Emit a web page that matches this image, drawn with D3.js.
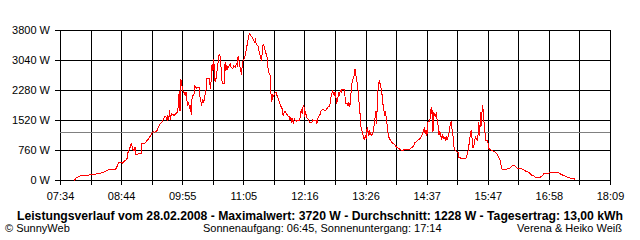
<!DOCTYPE html>
<html><head><meta charset="utf-8">
<script src="https://cdn.jsdelivr.net/npm/d3@7"></script>
<style>
html,body{margin:0;padding:0;background:#fff;}
svg{display:block;}
text{font-family:"Liberation Sans",Arial,sans-serif;fill:#000;}
</style></head>
<body>
<svg id="chart" width="640" height="240"></svg>
<script>
const times = [
"07:50","07:52","07:58","08:10","08:20","08:26","08:29","08:37","08:39","08:41",
"08:45","08:46","08:47","08:49","08:51","08:52","08:54","08:56","08:57","08:59",
"09:00","09:01","09:04","09:07","09:08","09:12","09:14","09:17","09:19","09:21",
"09:22","09:25","09:27","09:29","09:31","09:33","09:34","09:36","09:37","09:38",
"09:39","09:40","09:41","09:42","09:44","09:45","09:47","09:48","09:49","09:50",
"09:51","09:52","09:53","09:54","09:55","09:56","09:57","09:58","09:59","10:00",
"10:01","10:02","10:03","10:04","10:05","10:06","10:08","10:09","10:10","10:11",
"10:12","10:14","10:15","10:16","10:17","10:18","10:19","10:20","10:21","10:22",
"10:23","10:26","10:27","10:28","10:29","10:30","10:31","10:32","10:33","10:34",
"10:36","10:37","10:38","10:39","10:40","10:41","10:43","10:44","10:45","10:46",
"10:47","10:49","10:50","10:51","10:53","10:54","10:56","10:57","10:58","10:59",
"11:01","11:02","11:03","11:04","11:05","11:06","11:07","11:08","11:10","11:11",
"11:12","11:13","11:15","11:16","11:17","11:18","11:19","11:20","11:21","11:22",
"11:23","11:25","11:26","11:27","11:28","11:29","11:30","11:31","11:32","11:33",
"11:34","11:36","11:37","11:38","11:39","11:40","11:42","11:43","11:44","11:46",
"11:47","11:48","11:49","11:50","11:51","11:53","11:54","11:55","11:57","11:58",
"11:59","12:00","12:01","12:02","12:03","12:04","12:06","12:07","12:10","12:11",
"12:12","12:13","12:14","12:15","12:16","12:17","12:18","12:19","12:20","12:22",
"12:24","12:25","12:27","12:29","12:30","12:31","12:33","12:34","12:35","12:37",
"12:39","12:40","12:42","12:43","12:45","12:46","12:47","12:48","12:49","12:50",
"12:51","12:52","12:53","12:54","12:55","12:56","12:57","12:58","12:59","13:02",
"13:03","13:05","13:06","13:07","13:08","13:09","13:10","13:11","13:12","13:13",
"13:14","13:15","13:16","13:17","13:18","13:19","13:20","13:21","13:23","13:24",
"13:25","13:26","13:27","13:28","13:30","13:31","13:32","13:33","13:34","13:35",
"13:36","13:38","13:39","13:40","13:41","13:42","13:43","13:45","13:46","13:47",
"13:48","13:49","13:50","13:51","13:52","13:53","13:55","13:57","13:59","14:00",
"14:02","14:04","14:06","14:08","14:12","14:16","14:18","14:20","14:22","14:23",
"14:25","14:27","14:29","14:31","14:33","14:34","14:35","14:36","14:37","14:38",
"14:40","14:41","14:42","14:42","14:43","14:44","14:45","14:45","14:47","14:48",
"14:49","14:50","14:51","14:52","14:53","14:54","14:55","14:57","14:58","14:59",
"15:00","15:01","15:02","15:03","15:04","15:05","15:06","15:07","15:08","15:09",
"15:10","15:12","15:13","15:14","15:16","15:22","15:24","15:25","15:26","15:27",
"15:28","15:29","15:30","15:31","15:32","15:33","15:35","15:36","15:37","15:38",
"15:39","15:40","15:41","15:42","15:43","15:44","15:45","15:47","15:48","15:49",
"15:50","15:52","15:54","15:56","15:58","16:00","16:01","16:02","16:03","16:04",
"16:09","16:10","16:13","16:15","16:17","16:19","16:21","16:24","16:26","16:28",
"16:30","16:32","16:35","16:37","16:40","16:42","16:48","16:50","16:52","16:56",
"16:58","17:09","17:11","17:13","17:15","17:19","17:23","17:27","17:28"
];
const watts = [
0,68,127,144,186,228,270,270,338,465,
465,439,481,507,566,718,819,954,802,760,
844,650,675,675,929,954,1013,1098,1182,1241,
1224,1241,1351,1435,1478,1562,1621,1604,1520,1647,
1537,1773,1537,1689,1664,1647,1689,1714,1714,1900,
2255,1757,2559,2457,2280,2238,2238,2153,2238,2027,
1900,1984,1816,1917,1664,2136,2153,2389,2364,2339,
2364,2364,2111,2001,1900,2069,1968,2052,2196,2280,
2576,2576,2323,2533,2956,2787,3082,2559,2491,2660,
2998,3167,3183,2998,2576,2449,2449,2998,2787,2913,
2829,2913,2956,2871,2829,2913,2871,2956,2913,3150,
2913,2787,2677,2981,3040,3082,3150,3251,3504,3631,
3720,3700,3631,3589,3547,3504,3572,3462,3437,3403,
3293,3124,3040,3251,3462,3403,3319,3209,3209,2998,
2745,2660,2196,2001,2196,2136,2238,2238,2153,2027,
1984,1900,1858,1816,1647,1748,1731,1689,1630,1630,
1545,1604,1461,1545,1478,1562,1495,1520,1520,1647,
1816,1689,1858,1900,1604,1748,1604,1579,1545,1461,
1461,1537,1520,1520,1435,1562,1647,1689,1773,1798,
1773,1773,1833,1858,1900,2086,2153,2263,2238,2153,
2238,2111,1984,2027,2238,2153,2280,2238,2305,2305,
1942,1942,1900,1984,1858,2111,2364,2533,2576,2660,
2829,2660,2533,2407,2153,1900,1647,1351,1182,1072,
1039,1157,1056,1351,1140,1241,1182,1140,1182,1241,
1393,1748,1435,2153,2407,2533,2449,2238,1942,1900,
1647,1748,1604,1435,1224,1098,1013,954,929,904,
844,819,785,760,785,785,802,844,887,954,
988,1039,1056,1123,1267,1309,1182,1267,1123,1478,
1495,1604,1858,1689,1773,1224,1604,1731,1604,1731,
1478,1393,1157,1241,1157,1030,1140,1056,1098,1013,
1098,1056,1182,1224,1435,1478,1309,1182,887,802,
760,718,718,591,566,566,675,802,971,1140,
1267,1098,844,844,971,1098,1013,1140,1478,1140,
1731,1393,1917,1773,1478,1224,1013,1013,887,785,
785,760,735,718,675,591,549,465,338,279,
279,312,312,363,380,363,312,312,296,279,
253,228,211,144,127,84,84,110,169,169,
194,194,169,144,127,84,59,59,20
];
const yTicks = [0, 760, 1520, 2280, 3040, 3800];
const xStart = "07:34", xEnd = "18:09";
const xTickLabels = ["07:34","08:44","09:55","11:05","12:16","13:26","14:37","15:47","16:58","18:09"];
const average = 1228;
const titleText = "Leistungsverlauf vom 28.02.2008 - Maximalwert: 3720 W - Durchschnitt: 1228 W - Tagesertrag: 13,00 kWh";
const footLeft = "\u00A9 SunnyWeb";
const footMid = "Sonnenaufgang: 06:45, Sonnenuntergang: 17:14";
const footRight = "Verena & Heiko Wei\u00DF";

const toMin = s => { const [h, m] = s.split(":").map(Number); return h * 60 + m; };
const data = times.map((t, i) => ({t: toMin(t), w: watts[i]}));

const svg = d3.select("#chart");
const L = 60, R = 610, T = 30, B = 180;
const x = d3.scaleLinear().domain([toMin(xStart), toMin(xEnd)]).range([L, R]);
const y = d3.scaleLinear().domain([0, 3800]).range([B, T]);

// vertical grid + x labels
const nInt = 18;
const x0 = toMin(xStart), x1 = toMin(xEnd);
const xTickVals = d3.range(nInt + 1).map(i => x0 + i * (x1 - x0) / nInt);
const xAxis = d3.axisBottom(x).tickValues(xTickVals)
  .tickSizeInner(-(B + 5 - T)).tickSizeOuter(0).tickPadding(7)
  .tickFormat((d, i) => i % 2 === 0 ? xTickLabels[i / 2] : "");
const gx = svg.append("g").attr("transform", `translate(0,${B + 5})`).call(xAxis);
gx.select(".domain").remove();
gx.selectAll("line").attr("stroke", "#000").attr("shape-rendering", "crispEdges");
gx.selectAll("text").attr("font-size", 11).attr("font-family", '"Liberation Sans",Arial,sans-serif');

// horizontal grid + y labels
const yAxis = d3.axisLeft(y).tickValues(yTicks)
  .tickSizeInner(-(R - (L - 5))).tickSizeOuter(0).tickPadding(5)
  .tickFormat(d => d + " W");
const gy = svg.append("g").attr("transform", `translate(${L - 5},0)`).call(yAxis);
gy.select(".domain").remove();
gy.selectAll("line").attr("stroke", "#000").attr("shape-rendering", "crispEdges");
gy.selectAll("text").attr("font-size", 11).attr("font-family", '"Liberation Sans",Arial,sans-serif');

// average line
svg.append("line")
  .attr("x1", L).attr("x2", R)
  .attr("y1", Math.round(y(average)) + 0.5).attr("y2", Math.round(y(average)) + 0.5)
  .attr("stroke", "#808080").attr("shape-rendering", "crispEdges");

// power line
const line = d3.line().x(d => x(d.t)).y(d => y(d.w));
svg.append("path").datum(data)
  .attr("d", line).attr("fill", "none").attr("stroke", "#ff0000")
  .attr("stroke-width", 1).attr("shape-rendering", "crispEdges")
  .attr("transform", "translate(0.5,0.5)");

// footer texts
svg.append("text").attr("x", 17).attr("y", 220)
  .attr("font-size", 12).attr("font-weight", "bold")
  .attr("textLength", 606).attr("lengthAdjust", "spacingAndGlyphs")
  .text(titleText);
svg.append("text").attr("x", 5).attr("y", 232).attr("font-size", 11).text(footLeft);
svg.append("text").attr("x", 203).attr("y", 232).attr("font-size", 11).text(footMid);
svg.append("text").attr("x", 622).attr("y", 232).attr("font-size", 11)
  .attr("text-anchor", "end").text(footRight);
</script>
</body></html>
